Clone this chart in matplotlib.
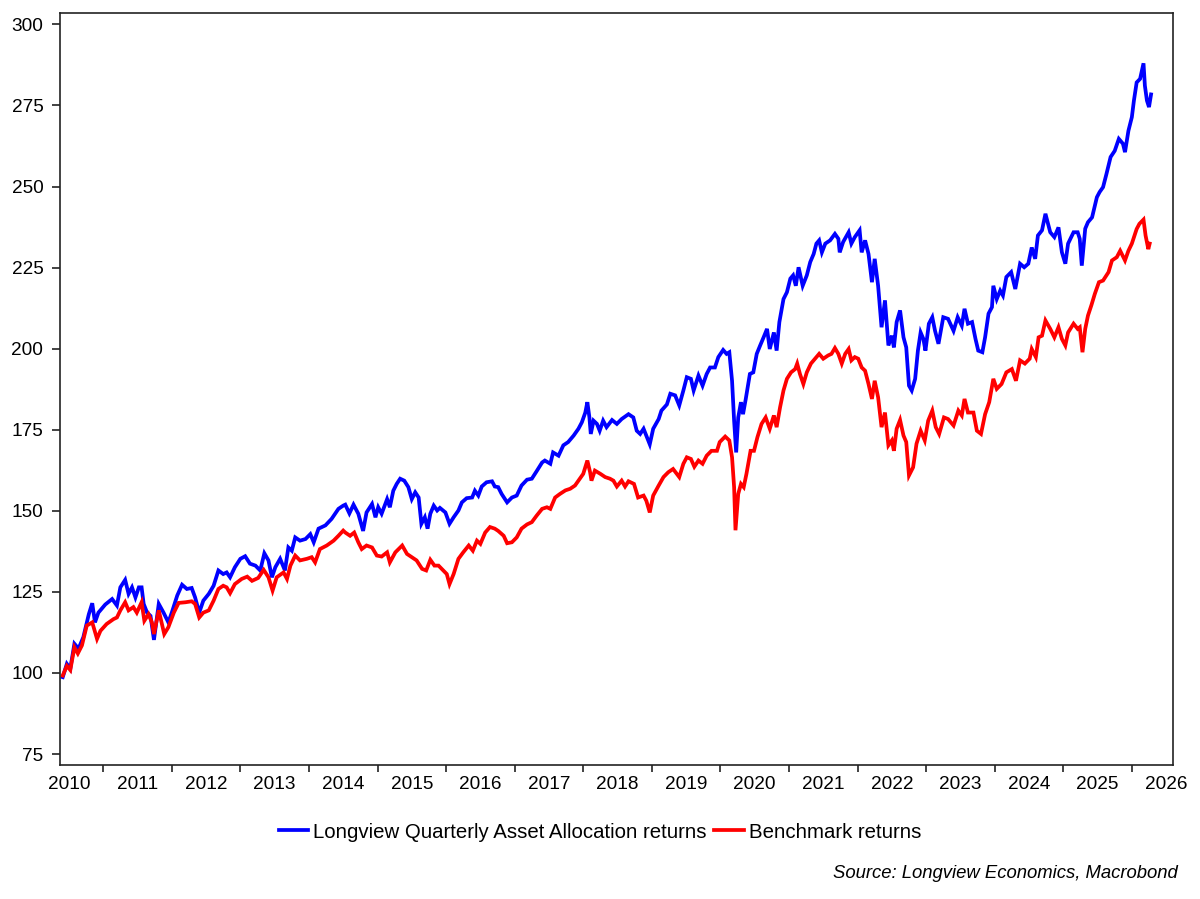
import matplotlib
matplotlib.use("Agg")
import matplotlib.pyplot as plt
from matplotlib.ticker import FixedLocator, NullFormatter, FixedFormatter

plt.rcParams['font.family'] = ['Liberation Sans', 'DejaVu Sans']

# Dates in decimal years
blue_dates = [
    2010.41, 2010.47, 2010.52, 2010.58, 2010.64, 2010.71, 2010.79, 2010.84, 2010.88, 2010.93,
    2011.03, 2011.13, 2011.20, 2011.25, 2011.32, 2011.37, 2011.42, 2011.47, 2011.52, 2011.56,
    2011.59, 2011.64, 2011.69, 2011.74, 2011.81, 2011.88, 2011.95, 2012.00, 2012.08, 2012.15,
    2012.22, 2012.29, 2012.34, 2012.40, 2012.46, 2012.54, 2012.61, 2012.68, 2012.75, 2012.80,
    2012.85, 2012.92, 2013.00, 2013.07, 2013.14, 2013.22, 2013.29, 2013.35, 2013.41, 2013.46,
    2013.51, 2013.58, 2013.65, 2013.70, 2013.75, 2013.80, 2013.87, 2013.95, 2014.02, 2014.07,
    2014.14, 2014.24, 2014.33, 2014.43, 2014.50,
    2014.53, 2014.59, 2014.65, 2014.72, 2014.79, 2014.84, 2014.92, 2014.97, 2015.01, 2015.06,
    2015.14, 2015.18, 2015.23, 2015.28, 2015.33, 2015.39, 2015.45, 2015.50, 2015.55, 2015.60,
    2015.64, 2015.69, 2015.73, 2015.77, 2015.82, 2015.87, 2015.91, 2015.99, 2016.05, 2016.11,
    2016.18, 2016.23, 2016.30, 2016.38, 2016.42, 2016.47, 2016.52, 2016.59, 2016.67, 2016.71,
    2016.76, 2016.81, 2016.89, 2016.96, 2017.03, 2017.10, 2017.18, 2017.25, 2017.32, 2017.40,
    2017.44, 2017.52, 2017.56, 2017.64, 2017.71, 2017.78, 2017.86, 2017.93, 2017.98, 2018.03,
    2018.06, 2018.09, 2018.11, 2018.15, 2018.20, 2018.24, 2018.29, 2018.34, 2018.42, 2018.49,
    2018.56, 2018.66,
    2018.73, 2018.78, 2018.83, 2018.88, 2018.92, 2018.97, 2019.02, 2019.10, 2019.14, 2019.22,
    2019.27, 2019.34, 2019.40, 2019.46, 2019.51, 2019.57, 2019.61, 2019.68, 2019.74, 2019.80,
    2019.85, 2019.92, 2019.97, 2020.04, 2020.09, 2020.13, 2020.17, 2020.20, 2020.23, 2020.26,
    2020.30, 2020.33, 2020.37, 2020.43, 2020.48, 2020.53, 2020.58, 2020.63, 2020.68, 2020.72,
    2020.78, 2020.82, 2020.86, 2020.92, 2020.97, 2021.02, 2021.06, 2021.10, 2021.14, 2021.20,
    2021.26, 2021.31, 2021.36, 2021.40, 2021.44, 2021.48, 2021.53, 2021.60, 2021.67, 2021.72,
    2021.74, 2021.79, 2021.87, 2021.91, 2021.96, 2022.03, 2022.06, 2022.11, 2022.16, 2022.21,
    2022.25, 2022.30, 2022.35, 2022.40, 2022.45, 2022.50, 2022.53, 2022.57, 2022.62, 2022.67,
    2022.71, 2022.75,
    2022.79, 2022.84, 2022.88, 2022.92, 2022.96, 2022.99, 2023.04, 2023.09, 2023.13, 2023.18,
    2023.25, 2023.32, 2023.40, 2023.46, 2023.52, 2023.56, 2023.61, 2023.67, 2023.72, 2023.76,
    2023.82, 2023.86, 2023.91, 2023.96, 2023.98, 2024.03, 2024.08, 2024.12, 2024.17, 2024.24,
    2024.30, 2024.37, 2024.43, 2024.49, 2024.54, 2024.59, 2024.63, 2024.69, 2024.74, 2024.81,
    2024.87, 2024.93, 2024.98, 2025.03, 2025.07, 2025.15, 2025.21, 2025.24, 2025.27, 2025.32,
    2025.36, 2025.42, 2025.49, 2025.53, 2025.58, 2025.63, 2025.69, 2025.75, 2025.81, 2025.87,
    2025.90, 2025.95, 2026.00, 2026.03, 2026.07, 2026.12, 2026.17, 2026.19, 2026.22, 2026.25,
    2026.28,
]
blue_values = [
    98.7, 102.8, 101.3, 109.0, 107.5, 111.0, 118.1, 121.5, 115.6, 118.6,
    121.1, 122.8, 120.8, 126.4, 128.7, 124.4, 126.4, 123.3, 126.4, 126.4,
    121.3, 118.6, 117.6, 110.2, 121.3, 118.6, 115.6, 118.6, 123.9, 127.2,
    125.9, 126.2, 123.3, 118.6, 122.3, 124.4, 126.9, 131.6, 130.5, 131.0,
    129.5, 132.6, 135.2, 136.0, 133.7, 133.1, 131.6, 136.9, 134.7, 129.5,
    132.6, 135.2, 131.6, 138.7, 137.7, 141.8, 140.8, 141.3, 142.8, 140.3,
    144.5, 145.5, 147.5, 150.6, 151.6,
    151.9, 149.2, 151.9, 149.1, 143.8, 149.5, 152.1, 148.0, 151.1, 149.1,
    153.6, 151.1, 156.2, 158.3, 159.9, 159.3, 157.3, 153.6, 155.7, 154.1,
    146.0, 148.0, 144.5, 149.1, 151.6, 150.1, 150.9, 149.5, 146.0, 148.0,
    150.1, 152.6, 153.9, 154.1, 156.2, 154.7, 157.5, 158.8, 159.1, 157.5,
    157.3, 155.2, 152.6, 154.1, 154.7, 157.8, 159.6, 159.9, 162.2, 164.9,
    165.5, 164.5, 168.0, 167.0, 170.2, 171.2, 173.2, 175.3, 177.3, 180.3,
    183.5, 178.8, 173.7, 177.8, 176.8, 174.7, 177.8, 175.8, 178.0, 176.8,
    178.3, 179.8,
    178.8, 174.7, 173.7, 175.3, 173.2, 170.5, 175.3, 178.3, 180.9, 182.8,
    186.1, 185.6, 182.5, 187.1, 191.2, 190.7, 187.1, 191.7, 188.6, 192.2,
    194.2, 194.2, 197.4, 199.6, 198.4, 198.9, 190.1, 177.8, 168.0, 178.8,
    183.5, 179.8, 184.5, 192.2, 192.7, 198.4, 201.0, 203.5, 206.1, 199.9,
    205.0, 199.4, 208.2, 215.3, 217.4, 221.6, 222.6, 219.4, 225.1, 219.4,
    222.6, 226.7, 229.2, 232.4, 233.4, 229.7, 232.4, 233.4, 235.4, 233.9,
    229.7, 232.9, 235.9, 232.4, 234.4, 236.5, 229.7, 233.4, 229.2, 220.5,
    227.7, 219.4, 206.6, 214.9, 201.0, 204.0, 200.4, 208.2, 211.8, 203.5,
    200.4, 188.6,
    187.1, 190.7, 199.4, 205.0, 203.0, 199.4, 207.7, 209.7, 205.5, 201.5,
    209.7, 209.2, 205.5, 209.7, 207.1, 212.3, 207.7, 208.2, 203.0, 199.4,
    198.9, 203.5, 210.8, 212.8, 219.4, 215.3, 217.9, 216.4, 222.1, 223.6,
    218.4, 226.2, 225.1, 226.2, 231.2, 227.7, 234.9, 236.5, 241.6, 235.9,
    234.4, 237.4, 229.7, 226.2, 232.4, 235.9, 235.9, 233.9, 225.6, 237.0,
    239.0, 240.5, 246.7, 248.3, 249.8, 253.9, 259.1, 261.0, 264.7, 263.2,
    260.6, 267.2, 271.4, 276.5, 282.1, 283.2, 288.0, 281.1, 276.5, 274.5,
    278.4,
]

red_dates = [
    2010.41, 2010.47, 2010.52, 2010.58, 2010.63, 2010.69, 2010.76, 2010.84, 2010.91, 2010.96,
    2011.05, 2011.15, 2011.20, 2011.25, 2011.32, 2011.37, 2011.44, 2011.49, 2011.56, 2011.60,
    2011.66, 2011.71, 2011.74, 2011.81, 2011.85, 2011.89, 2011.95, 2012.03, 2012.10, 2012.20,
    2012.29, 2012.34, 2012.40, 2012.46, 2012.54, 2012.61, 2012.68, 2012.75, 2012.80, 2012.85,
    2012.92, 2013.02, 2013.10, 2013.17, 2013.26, 2013.34, 2013.41, 2013.47, 2013.53, 2013.63,
    2013.68, 2013.73, 2013.80, 2013.87, 2013.97, 2014.04, 2014.09, 2014.16, 2014.26, 2014.36,
    2014.43, 2014.50,
    2014.53, 2014.60, 2014.66, 2014.72, 2014.77, 2014.84, 2014.92, 2014.99, 2015.06, 2015.14,
    2015.18, 2015.26, 2015.36, 2015.43, 2015.50, 2015.57, 2015.65, 2015.71, 2015.77, 2015.83,
    2015.89, 2015.96, 2016.01, 2016.05, 2016.11, 2016.18, 2016.25, 2016.33, 2016.39, 2016.45,
    2016.50, 2016.57, 2016.64, 2016.71, 2016.76, 2016.84, 2016.89, 2016.96, 2017.03, 2017.10,
    2017.18, 2017.25, 2017.32, 2017.40, 2017.47, 2017.52, 2017.59, 2017.66, 2017.74, 2017.81,
    2017.88, 2017.95, 2018.00, 2018.06, 2018.10, 2018.12, 2018.17, 2018.25, 2018.32, 2018.39,
    2018.44, 2018.49, 2018.56, 2018.61, 2018.66,
    2018.74, 2018.80, 2018.88, 2018.92, 2018.97, 2019.02, 2019.10, 2019.17, 2019.24, 2019.31,
    2019.40, 2019.46, 2019.51, 2019.57, 2019.62, 2019.68, 2019.74, 2019.80, 2019.87, 2019.95,
    2019.99, 2020.07, 2020.13, 2020.17, 2020.20, 2020.22, 2020.26, 2020.30, 2020.34, 2020.38,
    2020.44, 2020.49, 2020.54, 2020.60, 2020.66, 2020.72, 2020.78, 2020.82, 2020.87, 2020.92,
    2020.97, 2021.03, 2021.09, 2021.12, 2021.16, 2021.21, 2021.26, 2021.32, 2021.38, 2021.44,
    2021.50, 2021.57, 2021.62, 2021.67, 2021.72, 2021.77, 2021.82, 2021.87, 2021.91, 2021.96,
    2022.01, 2022.06, 2022.11, 2022.16, 2022.21, 2022.25, 2022.30, 2022.35, 2022.40, 2022.45,
    2022.50, 2022.53, 2022.57, 2022.62, 2022.67, 2022.71, 2022.75,
    2022.81, 2022.86, 2022.92, 2022.98, 2023.03, 2023.09, 2023.14, 2023.19, 2023.26, 2023.32,
    2023.40, 2023.47, 2023.52, 2023.56, 2023.61, 2023.69, 2023.74, 2023.80, 2023.86, 2023.92,
    2023.98, 2024.03, 2024.10, 2024.17, 2024.25, 2024.31, 2024.37, 2024.44, 2024.51, 2024.54,
    2024.60, 2024.64, 2024.69, 2024.74, 2024.81, 2024.87, 2024.93, 2024.98, 2025.03, 2025.07,
    2025.15, 2025.21, 2025.24, 2025.28, 2025.32, 2025.36, 2025.41, 2025.46, 2025.52, 2025.58,
    2025.66, 2025.71, 2025.78, 2025.83, 2025.90, 2025.95, 2026.00, 2026.07, 2026.11, 2026.17,
    2026.20, 2026.24, 2026.26,
]
red_values = [
    99.2, 102.2, 100.9, 107.9, 106.0, 108.5, 114.6, 115.6, 110.5, 113.0,
    115.1, 116.6, 117.1, 119.3, 121.8, 119.3, 120.3, 118.6, 121.8, 116.1,
    118.1, 115.6, 112.0, 119.3, 115.6, 112.0, 114.1, 118.6, 121.6, 121.8,
    122.1, 121.3, 117.1, 118.6, 119.3, 122.3, 125.9, 126.9, 126.4, 124.6,
    127.4, 129.0, 129.7, 128.4, 129.3, 131.8, 129.5, 125.4, 129.5, 131.0,
    129.0, 133.1, 136.2, 134.7, 135.2, 135.7, 134.1, 138.2, 139.3, 140.8,
    142.3, 143.9,
    143.3, 142.3, 143.3, 140.3, 138.2, 139.3, 138.7, 136.2, 135.9, 137.2,
    134.1, 137.2, 139.3, 136.7, 135.7, 134.7, 132.1, 131.6, 134.9, 133.1,
    133.1, 131.6, 130.5, 127.4, 130.5, 135.2, 137.2, 139.3, 137.7, 140.8,
    139.8, 143.3, 145.0, 144.5, 143.8, 142.3, 140.0, 140.3, 141.8, 144.5,
    145.8, 146.5, 148.5, 150.6, 151.1, 150.6, 154.1, 155.2, 156.3, 156.8,
    157.8, 159.9, 161.4, 165.5, 161.9, 159.3, 162.4, 161.4, 160.4, 159.9,
    159.3, 157.5, 159.3, 157.5, 159.1,
    158.3, 154.1, 154.7, 153.1, 149.5, 154.7, 157.8, 160.4, 161.9, 162.9,
    160.4, 164.5, 166.5, 166.0, 163.6, 165.5, 164.5, 167.0, 168.5, 168.5,
    171.2, 172.9, 171.7, 166.5, 157.3, 144.0, 155.2, 158.3, 157.3, 161.4,
    168.5, 168.5, 172.7, 176.8, 178.8, 175.3, 179.4, 175.8, 181.9, 187.1,
    190.7, 192.7, 193.7, 195.4, 192.2, 189.1, 192.7, 195.4, 196.9, 198.4,
    196.9, 197.9, 198.4, 200.2, 198.4, 195.4, 198.4, 199.9, 196.4, 197.4,
    196.9, 194.2, 193.2, 189.1, 184.5, 190.1, 185.0, 175.8, 180.3, 170.2,
    171.7, 168.5, 175.3, 178.0, 173.2, 171.2, 160.9,
    163.4, 170.7, 174.7, 171.7, 177.8, 180.9, 175.8, 173.7, 178.8, 178.3,
    176.3, 180.9, 179.4, 184.5, 180.3, 180.3, 174.7, 173.7, 179.8, 183.5,
    190.7, 187.6, 189.1, 192.7, 193.7, 190.1, 196.4, 195.4, 196.9, 199.9,
    197.4, 203.5, 204.0, 208.7, 206.1, 203.5, 206.6, 203.0, 201.0, 205.0,
    207.7, 206.1, 206.6, 198.9, 206.1, 210.2, 213.4, 216.9, 220.5, 221.0,
    223.6, 227.2, 228.2, 230.2, 227.2, 230.2, 232.4, 236.9, 238.5, 239.8,
    234.9, 230.7, 232.4,
]

year_labels = [str(y) for y in range(2010, 2027)]
year_bounds = list(range(2011, 2027))
y_ticks = [75, 100, 125, 150, 175, 200, 225, 250, 275, 300]

series_names = ["Longview Quarterly Asset Allocation returns", "Benchmark returns"]
source_text = "Source: Longview Economics, Macrobond"

fig = plt.figure(figsize=(12, 8.99), dpi=100)
ax = fig.add_axes([0.05, 0.149, 0.9275, 0.8365])

ax.plot(blue_dates, blue_values, color="#0000FF", lw=2.7, label=series_names[0],
        solid_joinstyle="miter")
ax.plot(red_dates, red_values, color="#FF0000", lw=2.7, label=series_names[1],
        solid_joinstyle="miter")

ax.set_xlim(2010.37, 2026.60)
ax.set_ylim(71.6, 303.5)

ax.set_yticks(y_ticks)
ax.set_yticklabels([str(v) for v in y_ticks])

ax.xaxis.set_major_locator(FixedLocator(year_bounds))
ax.xaxis.set_major_formatter(NullFormatter())
ax.xaxis.set_minor_locator(FixedLocator([y + 0.5 for y in range(2010, 2027)]))
ax.xaxis.set_minor_formatter(FixedFormatter(year_labels))

ax.tick_params(axis="x", which="major", direction="out", length=5, width=1.2, color="#222222")
ax.tick_params(axis="x", which="minor", length=0, pad=8, labelsize=13.7)
ax.tick_params(axis="y", direction="out", length=6, width=1.2, color="#222222",
               pad=6, labelsize=13.7)

for s in ax.spines.values():
    s.set_color("#222222")
    s.set_linewidth(1.2)

leg = fig.legend(loc="center", bbox_to_anchor=(0.5, 1 - 832 / 899), ncol=2,
                 frameon=False, fontsize=14.7, handlelength=1.45, handletextpad=0.25,
                 columnspacing=0.35)
for line in leg.get_lines():
    line.set_linewidth(2.7)

fig.text(1178 / 1200, 1 - 873 / 899, source_text, ha="right", va="center",
         fontsize=13.3, style="italic")

fig.savefig("out.png", dpi=100)
